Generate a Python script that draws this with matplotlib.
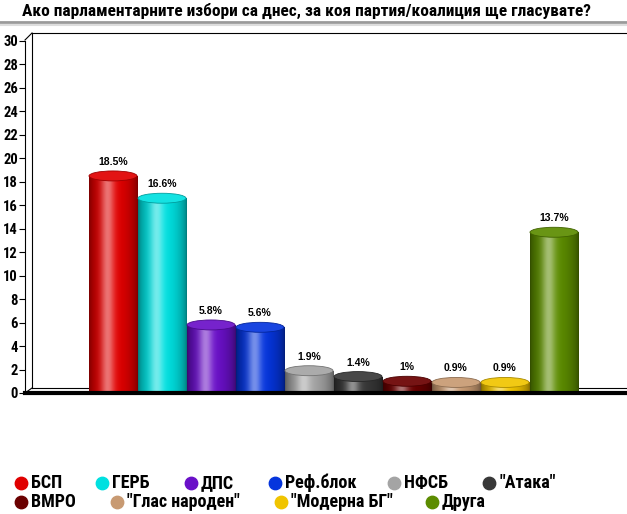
import numpy as np
import matplotlib
matplotlib.use("Agg")
import matplotlib.pyplot as plt
from matplotlib.patches import Ellipse
from matplotlib.colors import to_rgb

COND = ['Roboto Condensed', 'Liberation Sans Narrow', 'DejaVu Sans']
plt.rcParams['font.family'] = COND

title = "Ако парламентарните избори са днес, за коя партия/коалиция ще гласувате?"
parties = ["БСП", "ГЕРБ", "ДПС", "Реф.блок", "НФСБ", "\"Атака\"",
           "ВМРО", "\"Глас народен\"", "\"Модерна БГ\"", "Друга"]
values = [18.5, 16.6, 5.8, 5.6, 1.9, 1.4, 1.0, 0.9, 0.9, 13.7]
labels = ["18.5%", "16.6%", "5.8%", "5.6%", "1.9%", "1.4%", "1%", "0.9%", "0.9%", "13.7%"]
colors = ["#e00000", "#00e0e0", "#6a10c8", "#0535dd", "#a4a4a4", "#383838",
          "#6a0000", "#c89a72", "#f0c400", "#5c8c00"]
yticks = list(range(0, 31, 2))

W, H = 627, 514
fig = plt.figure(figsize=(W / 100, H / 100), dpi=100)

# background decoration axes in pixel coordinates
bg = fig.add_axes([0, 0, 1, 1], zorder=0)
bg.set_xlim(0, W)
bg.set_ylim(H, 0)
bg.axis('off')
bg.text(22, 11, title, fontsize=12.5, fontweight='bold', va='center', ha='left', family=COND)
bg.plot([0, W], [22, 22], color='#9a9a9a', lw=2)
bg.plot([0, W], [24.5, 24.5], color='#dddddd', lw=1.5)
# 3D back wall
bg.plot([32, W], [33, 33], color='black', lw=0.8)
bg.plot([32, 32], [33, 388], color='black', lw=0.8)
bg.plot([32, W], [388, 388], color='black', lw=0.8)
bg.plot([25, 32], [40, 33], color='black', lw=0.8)
bg.plot([25, 32], [393, 388], color='black', lw=0.8)

# main axes
ax = fig.add_axes([25 / W, (H - 393) / H, (W - 25) / W, 352 / H], zorder=1)
ax.patch.set_alpha(0)
x = np.arange(len(values))
bw = 0.98
bars = ax.bar(x, values, width=bw, color=colors, zorder=2)
ax.set_yticks(yticks)
ax.set_yticklabels([str(t) for t in yticks], fontsize=10.5, fontweight='bold')
ax.tick_params(axis='y', length=4, width=0.8, pad=1)
ax.set_xticks([])
for s in ['top', 'right']:
    ax.spines[s].set_visible(False)
ax.spines['left'].set_linewidth(0.8)
ax.spines['bottom'].set_linewidth(3)
ax.spines['bottom'].set_zorder(5)

t = np.linspace(0, 1, 64)
base = 0.55 + 0.45 * np.sin(np.pi * t) ** 0.6
hl = 0.45 * np.exp(-((t - 0.38) / 0.14) ** 2)
cap_h = 0.85
for b, v, c, lab in zip(bars, values, colors, labels):
    rgb = np.array(to_rgb(c))
    prof = rgb[None, :] * base[:, None]
    prof = prof + (1 - prof) * hl[:, None]
    img = np.clip(prof, 0, 1)[None, :, :]
    x0 = b.get_x()
    w = b.get_width()
    im = ax.imshow(img, extent=(x0, x0 + w, 0, v), aspect='auto', zorder=3,
                   interpolation='bilinear')
    im.set_clip_path(b)
    dark = rgb * 0.7
    top = rgb + (1 - rgb) * 0.08
    ax.add_patch(Ellipse((x0 + w / 2, v), w, cap_h, facecolor=top,
                         edgecolor=dark, lw=0.6, zorder=4))
    ax.annotate(lab, (x0 + w / 2, v), xytext=(0, 14), textcoords='offset pixels',
                ha='center', va='center', fontsize=7.5, fontweight='bold',
                family=['Liberation Sans', 'DejaVu Sans'], zorder=6)
ax.set_xlim(-88 / 49, (602 - 88) / 49)
ax.set_ylim(0, 30)

# legend (flowing two-row layout)
leg_x = [21, 102, 191, 275, 394, 489, 21, 117, 281, 432]
leg_y = [483, 483, 483, 483, 483, 483, 502, 502, 502, 502]
for px, py, name, c in zip(leg_x, leg_y, parties, colors):
    bg.scatter([px], [py], s=80, color=c, zorder=3)
    bg.text(px + 10, py, name, fontsize=13, fontweight='bold', va='center', ha='left')

fig.savefig("out.png", dpi=100)
